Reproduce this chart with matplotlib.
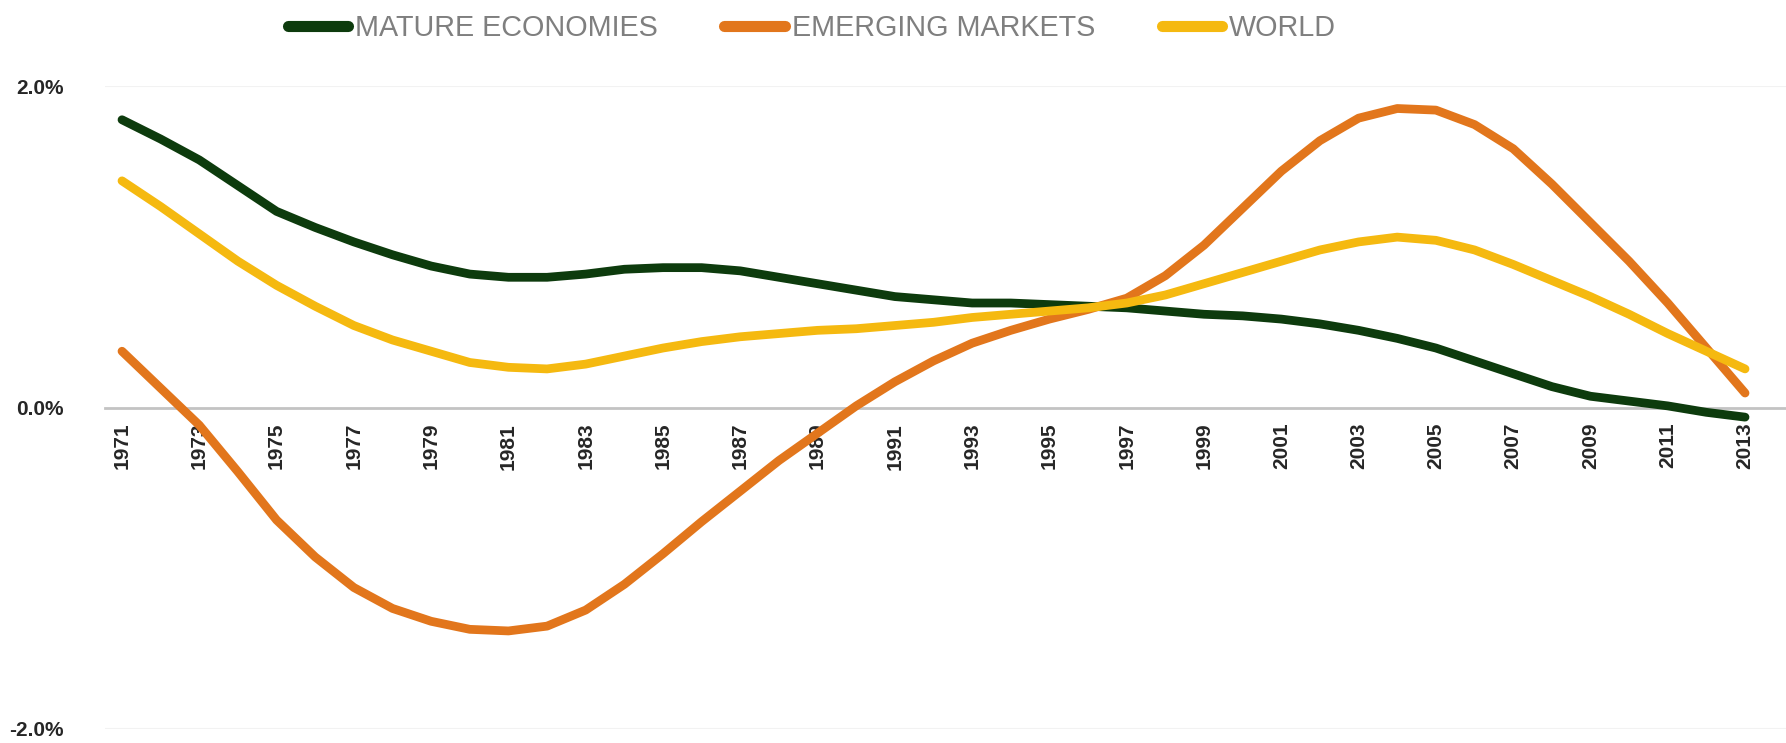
import numpy as np
import matplotlib
matplotlib.use("Agg")
import matplotlib.pyplot as plt
from matplotlib.ticker import FuncFormatter

plt.rcParams['font.family'] = ['Liberation Sans', 'DejaVu Sans']

years = np.arange(1971, 2014)

mature = [1.79, 1.67, 1.54, 1.38, 1.22, 1.12, 1.03, 0.95, 0.88, 0.83,
          0.81, 0.81, 0.83, 0.86, 0.87, 0.87, 0.85, 0.81, 0.77, 0.73,
          0.69, 0.67, 0.65, 0.65, 0.64, 0.63, 0.62, 0.60, 0.58, 0.57,
          0.55, 0.52, 0.48, 0.43, 0.37, 0.29, 0.21, 0.13, 0.07, 0.04,
          0.01, -0.03, -0.06]

emerging = [0.35, 0.12, -0.11, -0.40, -0.70, -0.93, -1.12, -1.25, -1.33, -1.38,
            -1.39, -1.36, -1.26, -1.10, -0.91, -0.71, -0.52, -0.33, -0.16, 0.01,
            0.16, 0.29, 0.40, 0.48, 0.55, 0.61, 0.68, 0.82, 1.01, 1.24,
            1.47, 1.66, 1.80, 1.86, 1.85, 1.76, 1.61, 1.39, 1.15, 0.91,
            0.65, 0.37, 0.09]

world = [1.41, 1.25, 1.08, 0.91, 0.76, 0.63, 0.51, 0.42, 0.35, 0.28,
         0.25, 0.24, 0.27, 0.32, 0.37, 0.41, 0.44, 0.46, 0.48, 0.49,
         0.51, 0.53, 0.56, 0.58, 0.60, 0.62, 0.65, 0.70, 0.77, 0.84,
         0.91, 0.98, 1.03, 1.06, 1.04, 0.98, 0.89, 0.79, 0.69, 0.58,
         0.46, 0.35, 0.24]

series = [
    ("MATURE ECONOMIES", mature, "#0d3b0d"),
    ("EMERGING MARKETS", emerging, "#e2761c"),
    ("WORLD", world, "#f5b910"),
]

W, H = 1786, 743
fig = plt.figure(figsize=(W / 100, H / 100), dpi=100)
ax = fig.add_axes([105 / W, 14 / H, (W - 105) / W, 643 / H])

for name, vals, col in series:
    ax.plot(years, vals, color=col, lw=6.3, solid_capstyle="round",
            solid_joinstyle="round", label=name)

ax.set_xlim(1970.56, 2014.06)
ax.set_ylim(-2.0, 2.0)

# faint gridlines at +/-2%, category axis sits on zero
for yv in (-2.0, 2.0):
    ax.axhline(yv, color="#f2f2f2", lw=1.5, zorder=0)
ax.spines["bottom"].set_position(("data", 0))
ax.spines["bottom"].set_color("#c3c3c3")
ax.spines["bottom"].set_linewidth(2.0)
ax.spines["bottom"].set_zorder(0.5)
for s in ("top", "right", "left"):
    ax.spines[s].set_visible(False)

ax.set_xticks(years[::2])
ax.set_xticklabels([str(y) for y in years[::2]], rotation=90,
                   fontsize=15, fontweight="bold", color="#262626")
ax.tick_params(axis="x", length=0, pad=11)

ax.set_yticks([-2.0, 0.0, 2.0])
ax.yaxis.set_major_formatter(FuncFormatter(lambda v, _: f"{v:.1f}%"))
ax.tick_params(axis="y", length=0, pad=30, labelsize=15, labelcolor="#262626")
for lab in ax.get_yticklabels():
    lab.set_fontweight("bold")

leg = fig.legend(loc="center", bbox_to_anchor=(812 / W, 1 - 28 / H), ncol=3,
                 frameon=False, handlelength=2.1, handletextpad=0.25,
                 columnspacing=2.3, fontsize=20.7)
for t in leg.get_texts():
    t.set_color("#7f7f7f")
for h in leg.get_lines():
    h.set_linewidth(8)

fig.savefig("out.png", dpi=100, facecolor="white")
